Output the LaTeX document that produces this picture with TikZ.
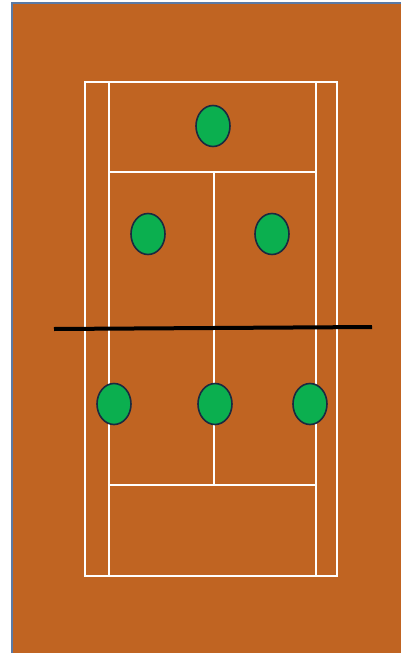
\documentclass[tikz,border=0pt]{standalone}
\usetikzlibrary{shapes.geometric}
\definecolor{clay}{HTML}{C06422}
\definecolor{bordercol}{HTML}{5A7AA6}
\definecolor{player}{HTML}{0BAF4F}
\definecolor{playerline}{HTML}{1A2A40}
\begin{document}
\begin{tikzpicture}[x=1pt,y=-1pt,
  courtline/.style={draw=white,line width=2pt},
  playerdot/.style={ellipse,draw=playerline,fill=player,line width=1.6pt,minimum width=34pt,minimum height=41pt,inner sep=0pt},
  netline/.style={draw=black,line width=4pt}]
\useasboundingbox (0,0) rectangle (401,653);
\fill[white] (0,0) rectangle (401,653);
\fill[clay] (12,3) rectangle (402,654);
\draw[bordercol,line width=1.2pt] (12,654) -- (12,3) -- (402,3);
% court
\coordinate (oTL) at (85,82);
\coordinate (oBR) at (337,576);
\draw[courtline] (oTL) rectangle (oBR);
\draw[courtline] (109,82) -- (109,576);
\draw[courtline] (316,82) -- (316,576);
\draw[courtline] (109,172) -- (316,172);
\draw[courtline] (109,485) -- (316,485);
\draw[courtline] (214,172) -- (214,485);
% net
\coordinate (netL) at (54,329);
\coordinate (netR) at (372,327);
\draw[netline] (netL) -- (netR);
% players
\node[playerdot] (p1) at (213,126) {};
\node[playerdot] (p2) at (148,234) {};
\node[playerdot] (p3) at (272,234) {};
\node[playerdot] (p4) at (114,404) {};
\node[playerdot] (p5) at (215,404) {};
\node[playerdot] (p6) at (310,404) {};
\end{tikzpicture}
\end{document}
